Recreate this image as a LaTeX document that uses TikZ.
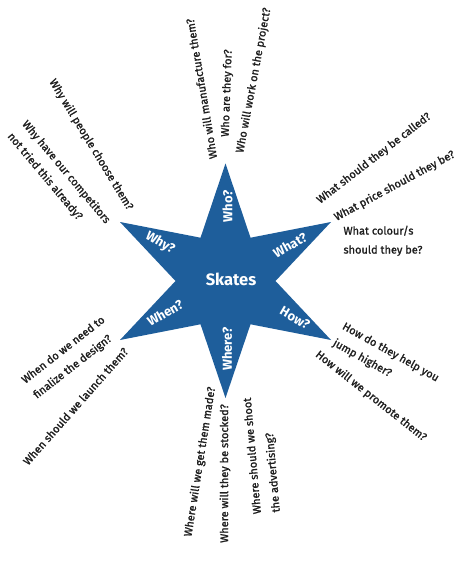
\documentclass[tikz,border=0pt]{standalone}
\usepackage{fontspec}
\setmainfont{Fira Sans}
\newfontfamily\qfont{Fira Sans}[FakeBold=1.4]
\definecolor{starblue}{RGB}{30,94,155}
\definecolor{qtext}{RGB}{30,30,30}
\begin{document}
\begin{tikzpicture}[x=1pt,y=-1pt,
  q/.style={font=\qfont\fontsize{11}{19}\selectfont, text=qtext, inner sep=0pt, anchor=west, align=left},
  lab/.style={font=\bfseries\fontsize{13}{15}\selectfont, text=white, inner sep=0pt},
  hub/.style={font=\bfseries\fontsize{16.5}{18}\selectfont, text=white, inner sep=0pt}]
\useasboundingbox (0,0) rectangle (460,561);
% star
\fill[starblue] (225.5,163.5) -- (250.5,237.7) -- (331,222) -- (275.5,281) -- (331,340)
  -- (250.5,324.3) -- (225.5,398) -- (200.5,324.3) -- (120,340) -- (175.5,281)
  -- (120,222) -- (200.5,237.7) -- cycle;
% labels in star
\node[hub] (skates) at (231,279) {Skates};
\node[lab, rotate=90] (who) at (227.5,206.5) {Who?};
\node[lab, rotate=30] (what) at (290,245) {What?};
\node[lab, rotate=-30] (how) at (295,318) {How?};
\node[lab, rotate=90] (where) at (227,349) {Where?};
\node[lab, rotate=30] (when) at (165,313) {When?};
\node[lab, rotate=-30] (why) at (160,243) {Why?};
% who
\node[q, rotate=99.5] (who1) at (213,159) {Who will manufacture them?};
\node[q, rotate=88] (who2) at (225.7,137) {Who are they for?};
\node[q, rotate=79.3] (who3) at (240,153) {Who will work on the project?};
% what
\node[q, rotate=37.7] (what1) at (318.3,201.7) {What should they be called?};
\node[q, rotate=28.4] (what2) at (335,218.3) {What price should they be?};
\node[q] (what3) at (343.3,240.8) {What colour/s\\should they be?};
% how
\node[q, rotate=-29.3] (how1) at (338.3,334.2) {How do they help you\\jump higher?};
\node[q, rotate=-38.3] (how2) at (316.7,353.3) {How will we promote them?};
% where
\node[q, rotate=81] (where1) at (188.3,536.7) {Where will we get them made?};
\node[q, rotate=90] (where2) at (225,543) {Where will they be stocked?};
\node[q, rotate=95] (where3) at (267.5,513.3) {Where should we shoot\\the advertising?};
% when
\node[q, rotate=38] (when1) at (29.2,389.2) {When do we need to\\finalize the design?};
\node[q, rotate=48.5] (when2) at (25,463.3) {When should we launch them?};
% why
\node[q, rotate=-58.7] (why1) at (51.7,80) {Why will people choose them?};
\node[q, rotate=-50] (why2) at (16.7,128.3) {Why have our competitors\\not tried this already?};
\end{tikzpicture}
\end{document}
